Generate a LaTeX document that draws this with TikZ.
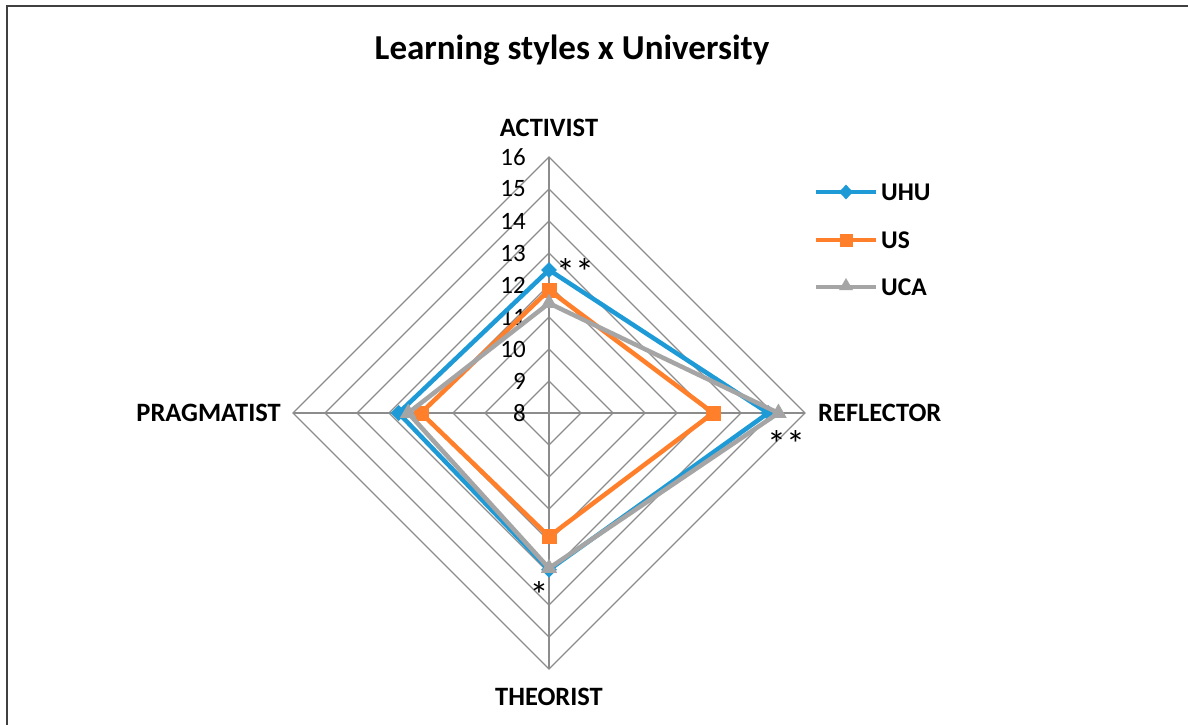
\documentclass[tikz,border=0pt]{standalone}
\usepackage{fontspec}
\setmainfont{Carlito}
\usetikzlibrary{shapes.geometric}
\definecolor{uhu}{HTML}{1E9BD7}
\definecolor{us}{HTML}{FF7F2A}
\definecolor{uca}{HTML}{A5A5A5}
\definecolor{gridc}{HTML}{8C8C8C}
\definecolor{framec}{HTML}{404040}
\tikzset{
  gridline/.style={draw=gridc, line width=1.2pt},
  framestyle/.style={draw=framec, line width=2pt},
  series/.style={line width=4.5pt, line join=round},
  num/.style={font=\fontsize{25}{25}\selectfont, inner sep=0pt, anchor=east},
  cat/.style={font=\fontsize{26.5}{26.5}\selectfont\bfseries, inner sep=0pt},
  legtext/.style={font=\fontsize{25.5}{25.5}\selectfont\bfseries, inner sep=0pt, anchor=west},
  star/.style={font=\fontsize{38}{38}\selectfont, inner sep=0pt},
  mdiamond/.style={diamond, fill=uhu, inner sep=0pt, minimum width=16pt, minimum height=16pt},
  msquare/.style={rectangle, fill=us, inner sep=0pt, minimum size=15pt},
  mtriangle/.style={regular polygon, regular polygon sides=3, fill=uca, inner sep=0pt, minimum size=19pt},
}
\newcommand{\radarpts}[5]{%
  \coordinate (#1A) at (549, {413-32*(#2-8)});
  \coordinate (#1R) at ({549+32*(#3-8)}, 413);
  \coordinate (#1T) at (549, {413+32*(#4-8)});
  \coordinate (#1P) at ({549-32*(#5-8)}, 413);
}
\begin{document}
\begin{tikzpicture}[x=1pt,y=-1pt]
\useasboundingbox (0,0) rectangle (1188,725);
\fill[white] (0,0) rectangle (1188,725);
\draw[framestyle] (6.5,725) -- (6.5,6.5) -- (1188,6.5);
% title
\node[font=\fontsize{35}{35}\selectfont\bfseries, inner sep=0pt] (title) at (572,50) {Learning styles x University};
% grid
\foreach \r in {1,...,8}{
  \draw[gridline] (549,{413-32*\r}) -- ({549+32*\r},413) -- (549,{413+32*\r}) -- ({549-32*\r},413) -- cycle;
}
\coordinate (top) at (549,157);
\coordinate (bottom) at (549,669);
\coordinate (left) at (293,413);
\coordinate (right) at (805,413);
\draw[gridline] (top) -- (bottom);
\draw[gridline] (left) -- (right);
% axis numbers
\foreach \v in {8,...,16}{
  \node[num] (n\v) at (526,{413-32*(\v-8)}) {\v};
}
% category labels
\node[cat] (activist) at (549,128) {ACTIVIST};
\node[cat, anchor=west] (reflector) at (818,413) {REFLECTOR};
\node[cat, anchor=east] (pragmatist) at (281,413) {PRAGMATIST};
\node[cat] (theorist) at (549,697) {THEORIST};
% data
\radarpts{u}{12.47}{14.85}{12.9}{12.7}
\radarpts{s}{11.84}{13.13}{11.86}{12.0}
\radarpts{c}{11.43}{15.17}{12.85}{12.4}
\draw[series, uhu] (uA) -- (uR) -- (uT) -- (uP) -- cycle;
\foreach \p in {A,R,T,P}{ \node[mdiamond] at (u\p) {}; }
\draw[series, us] (sA) -- (sR) -- (sT) -- (sP) -- cycle;
\foreach \p in {A,R,T,P}{ \node[msquare] at (s\p) {}; }
\draw[series, uca] (cA) -- (cR) -- (cT) -- (cP) -- cycle;
\foreach \p in {A,R,T,P}{ \node[mtriangle] at (c\p) {}; }
% stars
\node[star] (s1) at (575,272) {**};
\node[star] (s2) at (786,444) {**};
\node[star] (s3) at (539,595) {*};
% legend
\coordinate (l1a) at (816,192); \coordinate (l1b) at (876,192);
\coordinate (l2a) at (816,240); \coordinate (l2b) at (876,240);
\coordinate (l3a) at (816,287); \coordinate (l3b) at (876,287);
\draw[series, uhu] (l1a) -- (l1b);
\node[mdiamond, minimum width=14pt, minimum height=15pt] at (846,192) {};
\node[legtext] (lg1) at (881,192) {UHU};
\draw[series, us] (l2a) -- (l2b);
\node[msquare, minimum size=13pt] at (846,240) {};
\node[legtext] (lg2) at (881,240) {US};
\draw[series, uca] (l3a) -- (l3b);
\node[mtriangle, minimum size=16pt] at (846,286) {};
\node[legtext] (lg3) at (881,287) {UCA};
\end{tikzpicture}
\end{document}
